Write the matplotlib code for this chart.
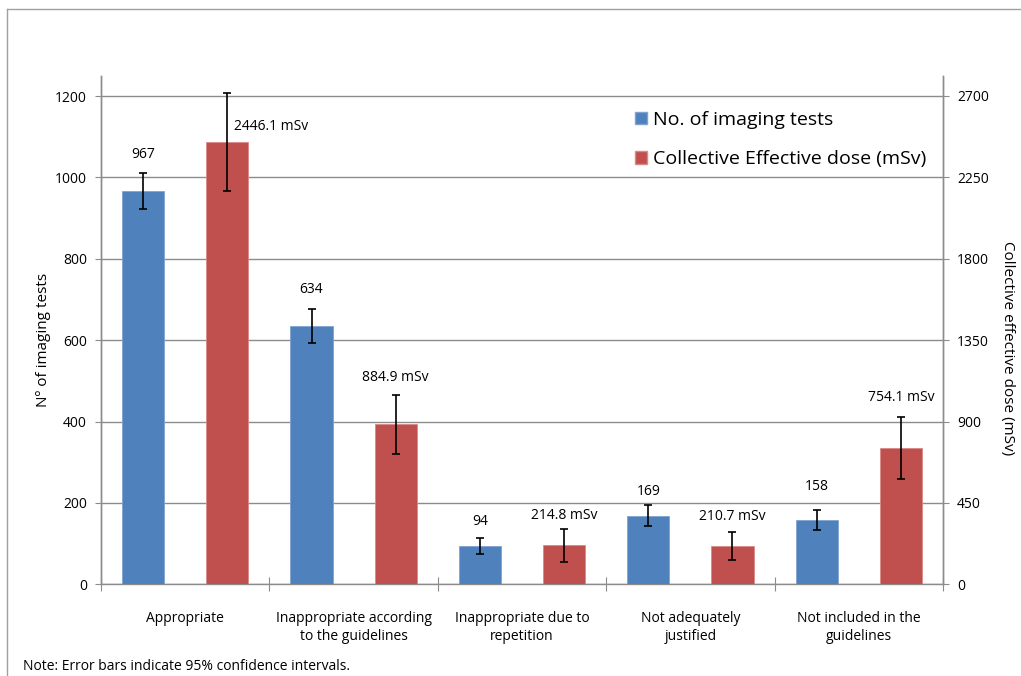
import numpy as np
import matplotlib
matplotlib.use("Agg")
import matplotlib.pyplot as plt
from matplotlib.lines import Line2D
from matplotlib.patches import Patch

plt.rcParams['font.family'] = ['Open Sans', 'DejaVu Sans']

categories = ["Appropriate", "Inappropriate according\nto the guidelines",
              "Inappropriate due to\nrepetition", "Not adequately\njustified",
              "Not included in the\nguidelines"]
tests = [967, 634, 94, 169, 158]
tests_err = [44, 42, 19, 25, 25]
dose = [2446.1, 884.9, 214.8, 210.7, 754.1]
dose_err = [269, 162, 90, 77, 170]

left_ticks = [0, 200, 400, 600, 800, 1000, 1200]
right_ticks = [0, 450, 900, 1350, 1800, 2250, 2700]

BLUE = "#4F81BD"
RED = "#C0504D"
GRID = "#8C8C8C"

fig = plt.figure(figsize=(10.21, 6.76), dpi=100)
ax = fig.add_axes([101 / 1021, 1 - 584.3 / 676, 842 / 1021, (584.3 - 76) / 676])
ax2 = ax.twinx()

x = np.arange(len(categories))
w = 0.25

ax.bar(x - w, tests, w, color=BLUE, edgecolor="#7FA3D1", linewidth=0.6, zorder=3)
ax.errorbar(x - w, tests, yerr=tests_err, fmt="none", ecolor="black",
            elinewidth=1.2, capsize=3, capthick=1.2, zorder=4)
ax2.bar(x + w, dose, w, color=RED, edgecolor="#D98A88", linewidth=0.6, zorder=3)
ax2.errorbar(x + w, dose, yerr=dose_err, fmt="none", ecolor="black",
             elinewidth=1.2, capsize=3, capthick=1.2, zorder=4)

ax.set_xlim(-0.5, len(categories) - 0.5)
ax.set_ylim(0, 1200 * 508.3 / 488.3)
ax2.set_ylim(0, 2700 * 508.3 / 488.3)
ax.set_yticks(left_ticks)
ax2.set_yticks(right_ticks)
ax.yaxis.grid(True, color=GRID, linewidth=1.0, zorder=0)
ax.set_axisbelow(True)

for a in (ax, ax2):
    a.spines['top'].set_visible(False)
    for s in ('left', 'right', 'bottom'):
        a.spines[s].set_color(GRID)
        a.spines[s].set_linewidth(1.0)
    a.tick_params(axis='y', length=4, color=GRID, labelsize=10, pad=6)
ax2.spines['bottom'].set_visible(False)

# category boundaries as crossing ticks
ax.set_xticks(np.arange(len(categories) + 1) - 0.5)
ax.set_xticklabels([])
ax.set_xticks(x, minor=True)
ax.set_xticklabels(categories, minor=True, fontsize=10, linespacing=1.3)
ax.tick_params(axis='x', which='major', direction='inout', length=10, color=GRID)
ax.tick_params(axis='x', which='minor', length=0, pad=19)

ax.set_ylabel("Nº of imaging tests", fontsize=11, va="center")
ax.yaxis.set_label_coords((44 - 101) / 842, (584.3 - 340) / 508.3)
ax2.set_ylabel("Collective effective dose (mSv)", fontsize=11, rotation=270, va="center")
ax2.yaxis.set_label_coords((1008 - 101) / 842, (584.3 - 348) / 508.3)

# data labels: pixel offsets from error bar top
test_off = [(0, 18), (0, 20), (0, 17), (0, 14), (0, 23)]
for i, v in enumerate(tests):
    ax.annotate(str(v), (x[i] - w, v + tests_err[i]), xytext=test_off[i],
                textcoords="offset pixels", ha="center", va="center", fontsize=10)
dose_off = [(44, -33), (0, 17), (0, 14), (0, 16), (0, 20)]
for i, v in enumerate(dose):
    ax2.annotate(f"{v} mSv", (x[i] + w, v + dose_err[i]), xytext=dose_off[i],
                 textcoords="offset pixels", ha="center", va="center", fontsize=10)

handles = [Patch(facecolor=BLUE, edgecolor="#7FA3D1"),
           Patch(facecolor=RED, edgecolor="#D98A88")]
leg = fig.legend(handles, ["No. of imaging tests", "Collective Effective dose (mSv)"],
                 loc="upper left", bbox_to_anchor=(635 / 1021, 1 - 111 / 676),
                 frameon=False, fontsize=14, handlelength=0.6, handleheight=0.6,
                 handletextpad=0.35, labelspacing=1.1, borderpad=0, borderaxespad=0)

fig.text(23 / 1021, 1 - 667 / 676, "Note: Error bars indicate 95% confidence intervals.",
         fontsize=10, va="center", ha="left")

# outer chart frame
fig.add_artist(Line2D([7 / 1021, 1.0], [1 - 9.3 / 676] * 2, color="#A0A0A0", lw=1.0))
fig.add_artist(Line2D([7 / 1021] * 2, [0, 1 - 9.3 / 676], color="#A0A0A0", lw=1.0))

fig.savefig("out.png", dpi=100)
